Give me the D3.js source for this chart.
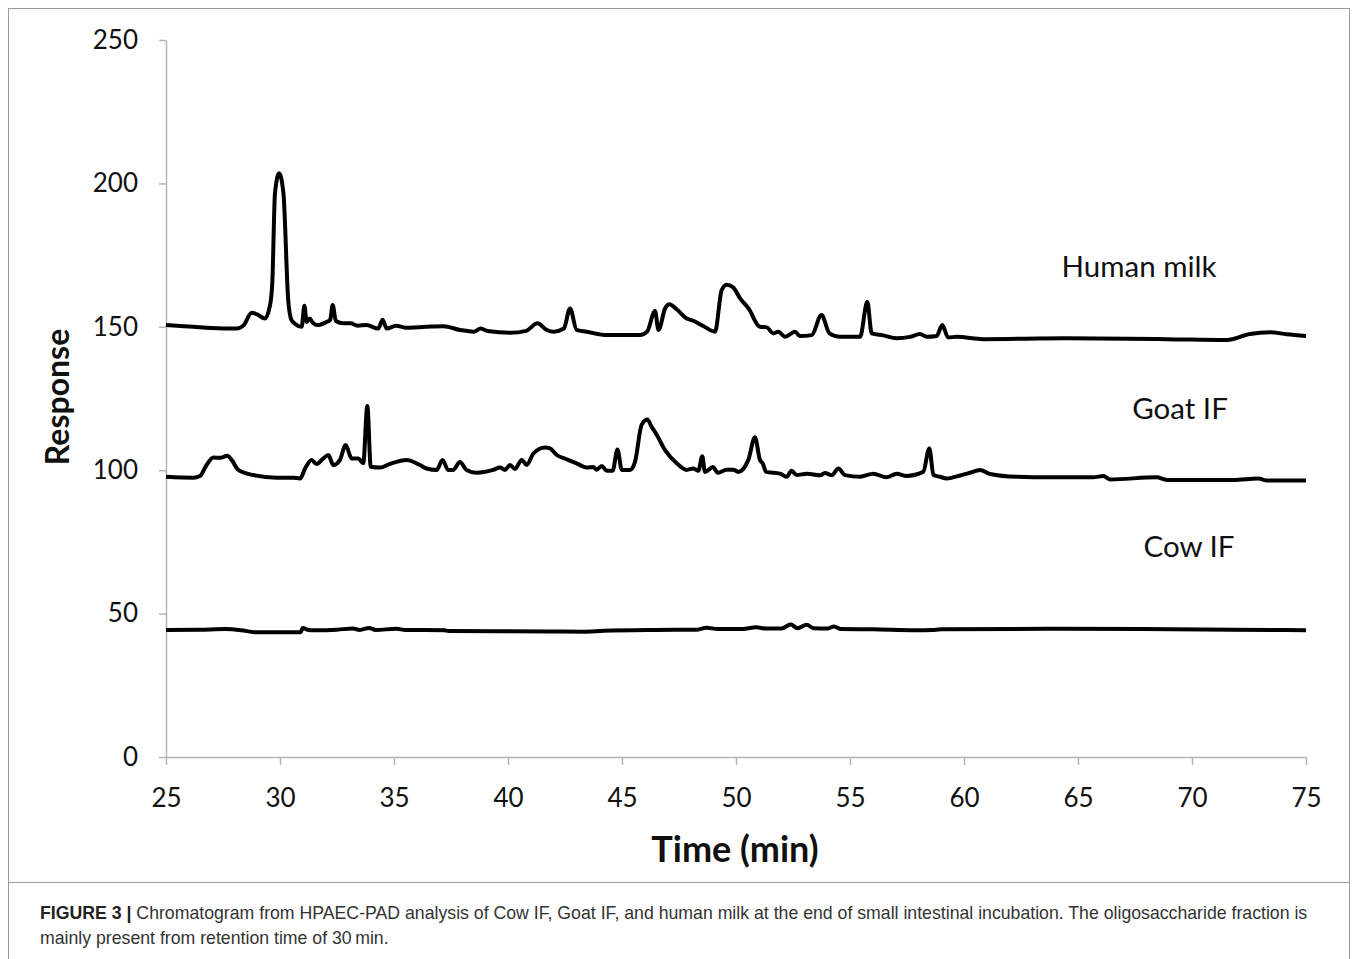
<!DOCTYPE html>
<html>
<head>
<meta charset="utf-8">
<script src="https://cdn.jsdelivr.net/npm/d3@7"></script>
<style>
  html, body { margin: 0; padding: 0; background: #fff; }
  svg { display: block; }
</style>
</head>
<body>
<svg id="chart" width="1358" height="959"></svg>
<script>
// retention time (min), response
const humanMilk = [
  [25.0, 150.6], [26.2, 150.0], [27.0, 149.6], [28.1, 149.4], [28.4, 150.5], [28.76, 154.9],
  [29.0, 154.3], [29.34, 152.9], [29.55, 157.0], [29.66, 165.0], [29.78, 196.6], [29.96, 203.5],
  [30.15, 196.6], [30.36, 159.3], [30.5, 152.4], [30.65, 151.1], [30.95, 150.0], [31.07, 157.3],
  [31.17, 151.7], [31.3, 152.9], [31.45, 151.3], [31.65, 150.6], [32.0, 151.5], [32.2, 152.4],
  [32.31, 157.6], [32.45, 152.0], [32.78, 151.2], [33.1, 151.2], [33.4, 150.4], [33.8, 150.6],
  [34.31, 149.4], [34.5, 152.5], [34.68, 149.4], [35.1, 150.4], [35.5, 149.7], [36.4, 150.0],
  [37.16, 150.2], [37.9, 148.9], [38.5, 148.3], [38.8, 149.4], [39.1, 148.5], [40.1, 147.9],
  [40.8, 148.6], [41.29, 151.2], [41.7, 148.9], [42.0, 148.3], [42.45, 149.4], [42.72, 156.4],
  [43.01, 148.9], [43.45, 148.3], [44.33, 147.1], [45.79, 147.1], [46.1, 148.3], [46.45, 155.5],
  [46.6, 148.9], [46.89, 156.4], [47.08, 157.9], [47.4, 156.1], [47.84, 152.9], [48.13, 152.1],
  [48.56, 150.3], [49.08, 148.3], [49.37, 162.8], [49.59, 164.7], [49.88, 163.7], [50.18, 159.9],
  [50.55, 156.4], [51.05, 150.0], [51.35, 149.8], [51.64, 147.7], [51.86, 148.3], [52.15, 146.5],
  [52.59, 148.3], [52.8, 146.8], [53.32, 147.1], [53.75, 154.1], [54.1, 147.7], [54.56, 146.5],
  [55.44, 146.5], [55.76, 158.7], [55.95, 147.7], [56.46, 147.0], [57.05, 146.0], [57.63, 146.5],
  [58.07, 147.5], [58.36, 146.5], [58.8, 146.8], [59.05, 150.6], [59.3, 146.3], [59.68, 146.5],
  [60.85, 145.7], [64.5, 146.0], [68.89, 145.7], [71.52, 145.4], [72.54, 147.5], [73.42, 148.1],
  [74.15, 147.4], [75.0, 146.8]
];

const goatIF = [
  [25.0, 97.7], [26.2, 97.4], [26.49, 98.0], [26.78, 101.8], [27.08, 104.4], [27.37, 104.3],
  [27.69, 105.0], [27.88, 103.6], [28.17, 100.1], [28.83, 98.3], [29.85, 97.4], [30.58, 97.4],
  [30.88, 97.1], [31.1, 100.6], [31.39, 103.6], [31.6, 102.2], [31.9, 104.1], [32.12, 105.3],
  [32.34, 101.8], [32.63, 103.6], [32.88, 108.8], [33.14, 104.1], [33.43, 104.1], [33.65, 102.4],
  [33.83, 122.4], [33.98, 101.2], [34.39, 100.9], [34.82, 102.2], [35.56, 103.6], [36.14, 101.8],
  [36.43, 100.6], [36.87, 100.1], [37.13, 103.6], [37.37, 100.1], [37.6, 100.1], [37.89, 102.9],
  [38.18, 100.1], [38.62, 99.1], [39.35, 100.1], [39.65, 100.9], [39.87, 100.1], [40.09, 101.8],
  [40.31, 100.4], [40.6, 103.6], [40.82, 101.8], [41.11, 105.8], [41.62, 107.9], [41.84, 107.6],
  [42.14, 105.3], [42.58, 103.8], [43.01, 102.4], [43.45, 100.9], [43.74, 101.1], [43.89, 100.2],
  [44.11, 101.5], [44.33, 99.8], [44.59, 99.8], [44.8, 107.2], [44.99, 100.1], [45.35, 100.1],
  [45.57, 102.9], [45.86, 115.8], [46.11, 117.7], [46.3, 115.1], [46.49, 112.8], [46.89, 107.0],
  [47.4, 102.4], [47.84, 100.1], [48.13, 100.6], [48.35, 99.8], [48.52, 104.9], [48.64, 99.4],
  [48.99, 101.1], [49.21, 99.1], [49.59, 100.2], [49.88, 100.2], [50.1, 99.4], [50.54, 103.6],
  [50.83, 111.5], [51.05, 103.6], [51.17, 102.4], [51.32, 99.4], [51.93, 98.8], [52.22, 97.7],
  [52.44, 99.8], [52.66, 98.3], [53.1, 98.8], [53.7, 98.2], [53.9, 99.0], [54.2, 98.3],
  [54.49, 100.6], [54.78, 98.3], [55.44, 97.7], [56.02, 98.8], [56.6, 97.5], [57.05, 98.8],
  [57.48, 98.0], [58.21, 99.4], [58.48, 107.6], [58.66, 98.3], [58.95, 97.7], [59.24, 97.1],
  [59.75, 98.0], [60.26, 99.1], [60.7, 100.1], [61.14, 98.7], [62.31, 97.7], [63.77, 97.5],
  [65.67, 97.5], [66.11, 98.0], [66.4, 96.8], [68.45, 97.5], [68.9, 96.6], [71.81, 96.6],
  [72.91, 97.1], [73.3, 96.4], [75.0, 96.4]
];

const cowIF = [
  [25.0, 44.3], [26.5, 44.4], [27.6, 44.6], [28.3, 44.2], [28.9, 43.5], [30.9, 43.5],
  [31.0, 45.0], [31.2, 44.4], [31.5, 44.2], [32.5, 44.4], [33.2, 44.8], [33.5, 44.3],
  [33.9, 45.0], [34.2, 44.3], [35.1, 44.7], [35.5, 44.3], [37.2, 44.2], [37.4, 43.9],
  [41.8, 43.8], [43.3, 43.7], [44.2, 44.0], [46.5, 44.3], [48.3, 44.4], [48.7, 45.1],
  [49.2, 44.6], [50.2, 44.6], [50.9, 45.2], [51.3, 44.8], [52.0, 44.8], [52.4, 46.2],
  [52.7, 44.9], [53.1, 46.1], [53.4, 44.9], [54.0, 44.8], [54.3, 45.5], [54.6, 44.6],
  [56.0, 44.5], [57.9, 44.2], [58.6, 44.3], [59.0, 44.5], [63.8, 44.7], [67.8, 44.6],
  [71.8, 44.4], [75.0, 44.2]
];

const seriesNames = ['Human milk', 'Goat IF', 'Cow IF'];
const labelAnchors = [[1139, 167.4], [1180, 117.9], [1189, 69.7]]; // [x px, response value]
const xTicks = [25, 30, 35, 40, 45, 50, 55, 60, 65, 70, 75];
const yTicks = [0, 50, 100, 150, 200, 250];

const SVG = d3.select('#chart');
const FONT = 'Lato, "Open Sans", sans-serif';

const X = d3.scaleLinear().domain([25, 75]).range([166, 1306]);
const Y = d3.scaleLinear().domain([0, 250]).range([757, 40]);

// figure frame
SVG.append('rect')
  .attr('x', 8.5).attr('y', 8.5)
  .attr('width', 1341).attr('height', 960)
  .attr('fill', 'none')
  .attr('stroke', '#9a9a9a')
  .attr('stroke-width', 1);
SVG.append('line')
  .attr('x1', 8).attr('x2', 1350)
  .attr('y1', 882.5).attr('y2', 882.5)
  .attr('stroke', '#9a9a9a');

const Y_AXIS = SVG.append('g')
  .attr('transform', `translate(${X(25)},0)`)
  .call(d3.axisLeft(Y).tickValues(yTicks).tickSize(7).tickSizeOuter(0).tickPadding(21));

const X_AXIS = SVG.append('g')
  .attr('transform', `translate(0,${Y(0)})`)
  .call(d3.axisBottom(X).tickValues(xTicks).tickSize(8).tickSizeOuter(0).tickPadding(24));

[Y_AXIS, X_AXIS].forEach((g) => {
  g.select('.domain').attr('stroke', '#b5b5b5').attr('stroke-width', 1.5);
  g.selectAll('.tick line').attr('stroke', '#b5b5b5').attr('stroke-width', 1.5);
  g.selectAll('.tick text')
    .style('font-family', FONT)
    .style('font-size', '26px')
    .attr('fill', '#111');
});

SVG.append('text')
  .text('Time (min)')
  .attr('x', 735)
  .attr('y', 862)
  .attr('text-anchor', 'middle')
  .style('font-family', FONT)
  .style('font-weight', '700')
  .style('font-size', '36px')
  .attr('fill', '#111');

SVG.append('text')
  .text('Response')
  .attr('transform', 'translate(69,397) rotate(-90)')
  .attr('text-anchor', 'middle')
  .style('font-family', FONT)
  .style('font-weight', '700')
  .style('font-size', '32px')
  .attr('fill', '#111');

const LINE = d3.line()
  .x((d) => X(d[0]))
  .y((d) => Y(d[1]))
  .curve(d3.curveMonotoneX);

[humanMilk, goatIF, cowIF].forEach((series) => {
  SVG.append('path')
    .datum(series)
    .attr('d', LINE)
    .attr('fill', 'none')
    .attr('stroke', '#000')
    .attr('stroke-width', 4)
    .attr('stroke-linejoin', 'round');
});

seriesNames.forEach((name, i) => {
  SVG.append('text')
    .text(name)
    .attr('x', labelAnchors[i][0])
    .attr('y', Y(labelAnchors[i][1]))
    .attr('text-anchor', 'middle')
    .style('font-family', FONT)
    .style('font-size', '29.5px')
    .attr('fill', '#111');
});

// caption
const CAPTION = SVG.append('g')
  .style('font-family', '"Liberation Sans Narrow", "Arial Narrow", "Liberation Sans", sans-serif')
  .style('font-size', '17.7px')
  .attr('fill', '#333');

const LINE1 = CAPTION.append('text').attr('x', 40).attr('y', 919);
LINE1.append('tspan').text('FIGURE 3 | ').style('font-weight', '700').attr('fill', '#222');
LINE1.append('tspan').text('Chromatogram from HPAEC-PAD analysis of Cow IF, Goat IF, and human milk at the end of small intestinal incubation. The oligosaccharide fraction is');

CAPTION.append('text')
  .attr('x', 40).attr('y', 944)
  .text('mainly present from retention time of 30\u2009min.');
</script>
</body>
</html>
